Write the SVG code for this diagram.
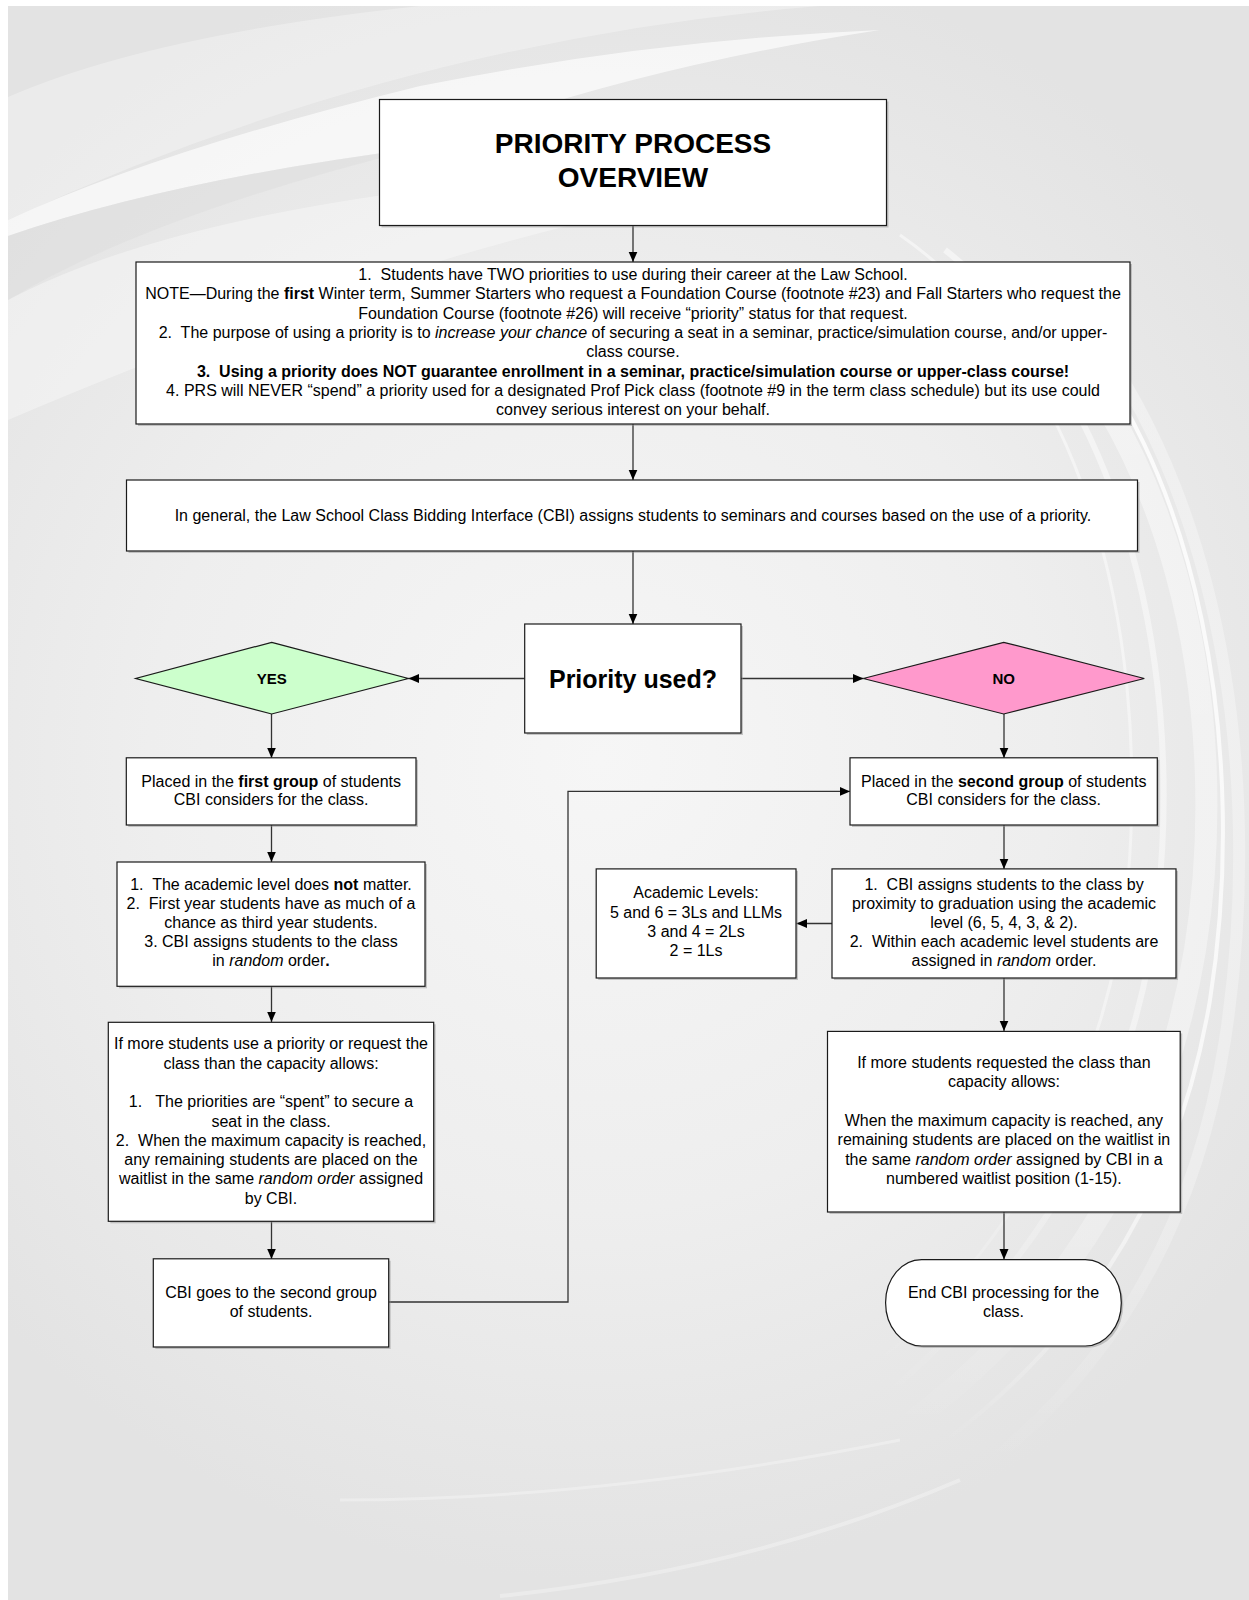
<svg xmlns="http://www.w3.org/2000/svg" width="1249" height="1600" viewBox="0 0 1249 1600">
<defs>
<radialGradient id="bg" cx="600" cy="760" r="820" gradientUnits="userSpaceOnUse">
<stop offset="0" stop-color="#f6f6f6"/>
<stop offset="0.55" stop-color="#eeeeee"/>
<stop offset="1" stop-color="#e3e3e3"/>
</radialGradient>
<linearGradient id="fade" x1="0" y1="0" x2="0" y2="1">
<stop offset="0" stop-color="#fff" stop-opacity="1"/>
<stop offset="0.75" stop-color="#fff" stop-opacity="0.8"/>
<stop offset="1" stop-color="#fff" stop-opacity="0"/>
</linearGradient>
<marker id="ah" markerUnits="userSpaceOnUse" markerWidth="11" markerHeight="10" refX="10.5" refY="5" orient="auto">
<path d="M0,0.5 L10.5,5 L0,9.5 z" fill="#000"/>
</marker>
<style>
.box{fill:#fff;stroke:#1a1a1a;stroke-width:1.2}
.sh{fill:#8c8c8c;opacity:0.45}
.t{font-family:"Liberation Sans",Arial,sans-serif;font-size:16px;fill:#000;text-anchor:middle}
.b{font-weight:bold}
.i{font-style:italic}
.conn{stroke:#333;stroke-width:1.3;fill:none}
.arr{marker-end:url(#ah)}
.sw{fill:none;stroke:url(#fade)}
</style>
</defs>
<g id="background">
<rect x="0" y="0" width="1249" height="1600" fill="#fff"/>
<rect x="8" y="6" width="1241" height="1594" fill="url(#bg)"/>
<path d="M8,97 Q150,35 420,6 L820,6 Q400,40 8,220 Z" fill="#fff" opacity="0.3"/>
<path d="M8,220 Q160,150 420,86 Q650,40 880,30 Q620,70 420,148 Q170,180 8,236 Z" fill="#fff" opacity="0.65"/>
<path d="M8,236 Q170,180 420,148 Q150,215 8,300 Z" fill="#dcdcdc" opacity="0.45"/>
<path d="M8,300 Q150,225 420,190 Q650,170 850,175 Q500,210 8,420 Z" fill="#fff" opacity="0.35"/>
<path class="sw" d="M1000,280 C1170,420 1235,700 1195,950 C1165,1130 1080,1300 900,1430" stroke-width="22" opacity="0.45"/>
<path class="sw" d="M1045,300 C1205,460 1248,760 1210,1000 C1180,1180 1095,1330 940,1445" stroke-width="4" opacity="0.85"/>
<path class="sw" d="M945,250 C1115,380 1185,650 1158,900 C1138,1080 1060,1250 880,1400" stroke-width="6" opacity="0.5"/>
<path class="sw" d="M900,235 C1080,360 1150,620 1128,880 C1110,1060 1030,1230 870,1370" stroke-width="3" opacity="0.5"/>
<path class="sw" d="M1090,330 C1230,520 1262,800 1225,1040 C1195,1230 1110,1370 980,1470" stroke-width="12" opacity="0.35"/>
<path d="M340,1500 Q600,1500 900,1440" fill="none" stroke="#fff" stroke-width="3" opacity="0.3"/>
<path d="M500,1596 Q750,1570 960,1480" fill="none" stroke="#fff" stroke-width="4" opacity="0.3"/>
</g>
<g id="connectors">
<path class="conn arr" d="M633,226 V262"/>
<path class="conn arr" d="M633,424 V480"/>
<path class="conn arr" d="M633,551 V624"/>
<path class="conn arr" d="M524.7,678.5 H408.5"/>
<path class="conn arr" d="M741,678.5 H863.5"/>
<path class="conn arr" d="M271.5,714 V758"/>
<path class="conn arr" d="M271.5,825 V862"/>
<path class="conn arr" d="M271.5,986 V1022"/>
<path class="conn arr" d="M271.5,1221 V1259"/>
<path class="conn arr" d="M388.7,1302 H568 V791.4 H850"/>
<path class="conn arr" d="M1004,714 V758"/>
<path class="conn arr" d="M1004,825 V869"/>
<path class="conn arr" d="M832,923.5 H796.5"/>
<path class="conn arr" d="M1004,978 V1031"/>
<path class="conn arr" d="M1004,1212 V1259.5"/>
</g>
<g id="title">
<rect class="sh" x="381.5" y="101.5" width="507" height="126"/>
<rect class="box" x="379.5" y="99.5" width="507" height="126"/>
<text class="t b" x="633" y="153" style="font-size:28px">PRIORITY PROCESS</text>
<text class="t b" x="633" y="186.6" style="font-size:28px">OVERVIEW</text>
</g>
<g id="notes">
<rect class="sh" x="138" y="264" width="994" height="162"/>
<rect class="box" x="136" y="262" width="994" height="162"/>
<text class="t" x="633" y="280">1.&#160; Students have TWO priorities to use during their career at the Law School.</text>
<text class="t" x="633" y="299.3">NOTE—During the <tspan class="b">first</tspan> Winter term, Summer Starters who request a Foundation Course (footnote #23) and Fall Starters who request the</text>
<text class="t" x="633" y="318.6">Foundation Course (footnote #26) will receive “priority” status for that request.</text>
<text class="t" x="633" y="337.9">2.&#160; The purpose of using a priority is to <tspan class="i">increase your chance</tspan> of securing a seat in a seminar, practice/simulation course, and/or upper-</text>
<text class="t" x="633" y="357.2">class course.</text>
<text class="t b" x="633" y="376.5">3.&#160; Using a priority does NOT guarantee enrollment in a seminar, practice/simulation course or upper-class course!</text>
<text class="t" x="633" y="395.8">4. PRS will NEVER “spend” a priority used for a designated Prof Pick class (footnote #9 in the term class schedule) but its use could</text>
<text class="t" x="633" y="415.1">convey serious interest on your behalf.</text>
</g>
<g id="general">
<rect class="sh" x="128.5" y="482" width="1011" height="71"/>
<rect class="box" x="126.5" y="480" width="1011" height="71"/>
<text class="t" x="633" y="521">In general, the Law School Class Bidding Interface (CBI) assigns students to seminars and courses based on the use of a priority.</text>
</g>
<g id="decision">
<rect class="sh" x="526.7" y="626" width="216.3" height="109"/>
<rect class="box" x="524.7" y="624" width="216.3" height="109"/>
<text class="t b" x="633" y="687.5" style="font-size:25px">Priority used?</text>
</g>
<g id="yes">
<polygon points="271.7,642.3 408.3,678.5 271.7,714 135.7,678.5" fill="#ccffcc" stroke="#1a1a1a" stroke-width="1.2"/>
<text class="t b" x="271.7" y="683.8" style="font-size:15px">YES</text>
</g>
<g id="no">
<polygon points="1003.7,642.3 1144.3,678.5 1003.7,714 863.3,678.5" fill="#ff99cc" stroke="#1a1a1a" stroke-width="1.2"/>
<text class="t b" x="1003.7" y="683.8" style="font-size:15px">NO</text>
</g>
<g id="first-group">
<rect class="sh" x="128.3" y="759.8" width="289.7" height="67.2"/>
<rect class="box" x="126.3" y="757.8" width="289.7" height="67.2"/>
<text class="t" x="271.2" y="786.7">Placed in the <tspan class="b">first group</tspan> of students</text>
<text class="t" x="271.2" y="805.2">CBI considers for the class.</text>
</g>
<g id="level-not-matter">
<rect class="sh" x="119" y="864" width="308" height="124.3"/>
<rect class="box" x="117" y="862" width="308" height="124.3"/>
<text class="t" x="271" y="889.5">1.&#160; The academic level does <tspan class="b">not</tspan> matter.</text>
<text class="t" x="271" y="908.7">2.&#160; First year students have as much of a</text>
<text class="t" x="271" y="927.9">chance as third year students.</text>
<text class="t" x="271" y="947.1">3. CBI assigns students to the class</text>
<text class="t" x="271" y="966.3">in <tspan class="i">random</tspan> order<tspan class="b">.</tspan></text>
</g>
<g id="capacity-left">
<rect class="sh" x="110.3" y="1024.3" width="325.4" height="199"/>
<rect class="box" x="108.3" y="1022.3" width="325.4" height="199"/>
<text class="t" x="271" y="1049.2">If more students use a priority or request the</text>
<text class="t" x="271" y="1068.6">class than the capacity allows:</text>
<text class="t" x="271" y="1107.2">1.&#160;&#160; The priorities are “spent” to secure a</text>
<text class="t" x="271" y="1126.5">seat in the class.</text>
<text class="t" x="271" y="1145.8">2.&#160; When the maximum capacity is reached,</text>
<text class="t" x="271" y="1165.1">any remaining students are placed on the</text>
<text class="t" x="271" y="1184.4">waitlist in the same <tspan class="i">random order</tspan> assigned</text>
<text class="t" x="271" y="1203.7">by CBI.</text>
</g>
<g id="second-group-next">
<rect class="sh" x="155.3" y="1260.8" width="235.4" height="88.2"/>
<rect class="box" x="153.3" y="1258.8" width="235.4" height="88.2"/>
<text class="t" x="271" y="1297.5">CBI goes to the second group</text>
<text class="t" x="271" y="1317">of students.</text>
</g>
<g id="second-group">
<rect class="sh" x="852" y="759.8" width="307.3" height="67.2"/>
<rect class="box" x="850" y="757.8" width="307.3" height="67.2"/>
<text class="t" x="1003.7" y="786.7">Placed in the <tspan class="b">second group</tspan> of students</text>
<text class="t" x="1003.7" y="805.2">CBI considers for the class.</text>
</g>
<g id="proximity">
<rect class="sh" x="834" y="870.9" width="344" height="109.1"/>
<rect class="box" x="832" y="868.9" width="344" height="109.1"/>
<text class="t" x="1004" y="889.5">1.&#160; CBI assigns students to the class by</text>
<text class="t" x="1004" y="908.7">proximity to graduation using the academic</text>
<text class="t" x="1004" y="927.9">level (6, 5, 4, 3, &amp; 2).</text>
<text class="t" x="1004" y="947.1">2.&#160; Within each academic level students are</text>
<text class="t" x="1004" y="966.3">assigned in <tspan class="i">random</tspan> order.</text>
</g>
<g id="academic-levels">
<rect class="sh" x="598.2" y="870.9" width="199.8" height="109.1"/>
<rect class="box" x="596.2" y="868.9" width="199.8" height="109.1"/>
<text class="t" x="696" y="898.3">Academic Levels:</text>
<text class="t" x="696" y="917.6">5 and 6 = 3Ls and LLMs</text>
<text class="t" x="696" y="936.9">3 and 4 = 2Ls</text>
<text class="t" x="696" y="956.2">2 = 1Ls</text>
</g>
<g id="capacity-right">
<rect class="sh" x="829.5" y="1033.4" width="352.7" height="180.6"/>
<rect class="box" x="827.5" y="1031.4" width="352.7" height="180.6"/>
<text class="t" x="1003.9" y="1068">If more students requested the class than</text>
<text class="t" x="1003.9" y="1087.3">capacity allows:</text>
<text class="t" x="1003.9" y="1125.9">When the maximum capacity is reached, any</text>
<text class="t" x="1003.9" y="1145.2">remaining students are placed on the waitlist in</text>
<text class="t" x="1003.9" y="1164.5">the same <tspan class="i">random order</tspan> assigned by CBI in a</text>
<text class="t" x="1003.9" y="1183.8">numbered waitlist position (1-15).</text>
</g>
<g id="end">
<rect class="sh" x="887.6" y="1261.6" width="235.7" height="86.4" rx="36" ry="43"/>
<rect class="box" x="885.6" y="1259.6" width="235.7" height="86.4" rx="36" ry="43"/>
<text class="t" x="1003.5" y="1297.5">End CBI processing for the</text>
<text class="t" x="1003.5" y="1317">class.</text>
</g>
</svg>
